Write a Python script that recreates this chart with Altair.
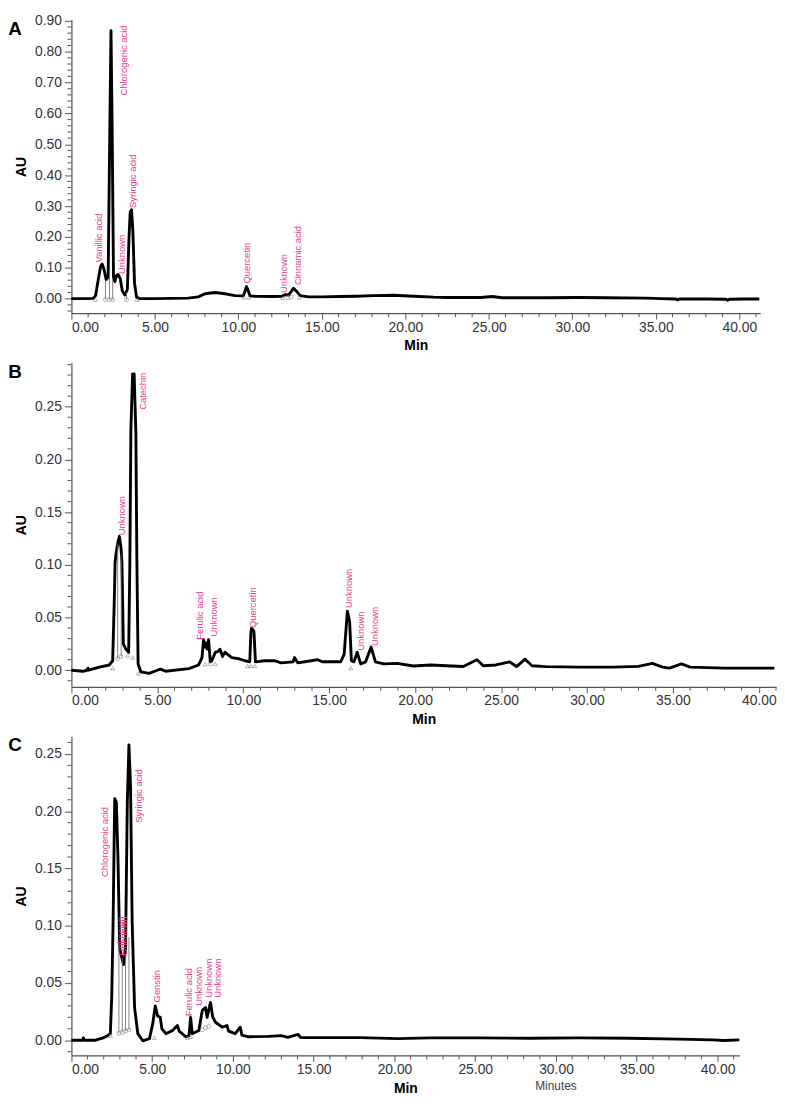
import altair as alt
import pandas as pd

# ---------------- Panel A ----------------
A_time = [0.0, 0.8, 1.3, 1.45, 1.6, 1.75, 1.84, 1.95, 2.08, 2.2, 2.3, 2.37, 2.44, 2.52, 2.6, 2.7, 2.8,
          2.92, 3.05, 3.2, 3.35, 3.45, 3.52, 3.6, 3.68, 3.78, 3.9, 4.1, 5.0, 6.0, 7.0, 7.6, 8.0, 8.6,
          9.2, 9.8, 10.3, 10.4, 10.48, 10.56, 10.7, 11.0, 12.0, 12.6, 12.8, 13.0, 13.15, 13.3, 13.45,
          13.7, 14.2, 15.0, 16.1, 17.0, 18.1, 19.3, 20.5, 21.7, 22.5, 24.5, 25.2, 25.8, 27.0, 28.5,
          30.4, 32.0, 34.4, 35.3, 36.2, 36.3, 36.4, 38.0, 39.2, 39.3, 39.4, 40.2, 41.2]
A_au = [0.0, 0.0, 0.001, 0.01, 0.06, 0.105, 0.112, 0.095, 0.062, 0.07, 0.55, 0.868, 0.55, 0.07, 0.055,
        0.075, 0.078, 0.065, 0.025, 0.012, 0.03, 0.2, 0.28, 0.288, 0.22, 0.05, 0.005, 0.0, 0.0, 0.001,
        0.002, 0.006, 0.016, 0.02, 0.016, 0.01, 0.009, 0.025, 0.039, 0.03, 0.009, 0.008, 0.007, 0.008,
        0.013, 0.012, 0.022, 0.034, 0.026, 0.01, 0.006, 0.006, 0.007, 0.008, 0.01, 0.011, 0.008, 0.005,
        0.004, 0.004, 0.007, 0.003, 0.003, 0.003, 0.004, 0.003, 0.002, 0.0, -0.001, -0.004, -0.001,
        -0.001, -0.002, -0.005, -0.002, -0.001, -0.001]
A_lab_text = ["Vanillic acid", "Chlorogenic acid", "Unknown", "Syringic acid", "Quercetin", "Unknown",
              "Cinnamic acid"]
A_lab_time = [1.68, 3.17, 3.05, 3.66, 10.54, 12.76, 13.6]
A_lab_au = [0.117, 0.658, 0.08, 0.294, 0.049, 0.018, 0.044]
A_tri_time = [1.44, 3.94, 10.33, 10.62, 12.66, 13.65]
A_tri_au = [-0.003, -0.003, 0.004, 0.004, 0.003, 0.004]
A_cir_time = [2.04, 2.28, 2.47, 3.3, 12.96, 13.16]
A_cir_au = [-0.003, -0.003, -0.003, -0.003, 0.004, 0.005]
A_drop_time = [2.04, 2.28, 2.47, 3.3]
A_drop_top = [0.06, 0.07, 0.065, 0.02]
A_drop_bot = [-0.003, -0.003, -0.003, -0.003]

# ---------------- Panel B ----------------
B_time = [0.0, 0.67, 0.9, 0.96, 1.0, 1.63, 2.21, 2.4, 2.5, 2.54, 2.6, 2.69, 2.79, 2.88, 2.94, 3.02,
          3.17, 3.33, 3.4, 3.46, 3.56, 3.65, 3.75, 3.81, 3.88, 4.04, 4.52, 5.0, 5.19, 5.48, 6.83, 7.4,
          7.6, 7.69, 7.76, 7.83, 7.9, 7.98, 8.08, 8.17, 8.37, 8.55, 8.65, 8.79, 8.94, 9.33, 9.71, 10.1,
          10.38, 10.44, 10.48, 10.57, 10.62, 10.71, 11.25, 11.83, 12.2, 12.9, 12.98, 13.17, 13.94,
          14.33, 14.6, 15.67, 15.87, 16.06, 16.19, 16.29, 16.44, 16.63, 16.83, 17.12, 17.44, 17.69,
          18.17, 18.95, 19.9, 20.9, 21.8, 22.8, 23.6, 23.96, 24.7, 25.5, 25.9, 26.4, 26.8, 27.6, 29.5,
          31.5, 33.0, 33.8, 34.4, 34.8, 35.5, 36.0, 38.0, 40.9]
B_au = [0.0, -0.001, 0.0, 0.002, 0.0, 0.003, 0.005, 0.009, 0.07, 0.102, 0.111, 0.12, 0.127, 0.117,
        0.102, 0.025, 0.02, 0.017, 0.102, 0.228, 0.281, 0.281, 0.225, 0.102, 0.006, -0.0015, -0.003,
        0.0, 0.001, -0.001, 0.0015, 0.005, 0.012, 0.029, 0.022, 0.026, 0.02, 0.029, 0.008, 0.009,
        0.017, 0.018, 0.02, 0.013, 0.017, 0.012, 0.011, 0.009, 0.008, 0.035, 0.04, 0.038, 0.037, 0.008,
        0.009, 0.009, 0.007, 0.008, 0.012, 0.007, 0.009, 0.01, 0.008, 0.008, 0.015, 0.056, 0.046,
        0.009, 0.008, 0.017, 0.006, 0.008, 0.022, 0.008, 0.006, 0.0065, 0.004, 0.005, 0.0043, 0.0035,
        0.01, 0.0043, 0.005, 0.008, 0.0035, 0.0105, 0.0043, 0.0034, 0.003, 0.003, 0.0037, 0.0065,
        0.003, 0.002, 0.006, 0.003, 0.002, 0.002]
B_lab_text = ["Unknown", "Catechin", "Ferulic acid", "Unknown", "Quercetin", "Unknown", "Unknown",
              "Unknown"]
B_lab_time = [2.92, 4.17, 7.5, 8.31, 10.58, 16.15, 16.83, 17.69]
B_lab_au = [0.128, 0.247, 0.029, 0.032, 0.04, 0.059, 0.0185, 0.023]
B_tri_time = [2.4, 3.27, 3.56, 3.9, 7.79, 8.37, 10.25, 10.44, 10.67, 16.25]
B_tri_au = [0.002, 0.014, 0.012, -0.003, 0.006, 0.006, 0.004, 0.004, 0.004, 0.002]
B_cir_time = [2.69, 2.88, 8.08]
B_cir_au = [0.011, 0.013, 0.006]
B_drop_time = [2.69, 2.9]
B_drop_top = [0.12, 0.11]
B_drop_bot = [0.011, 0.013]

# ---------------- Panel C ----------------
C_time = [0.0, 0.7, 0.74, 0.78, 1.5, 1.96, 2.17, 2.41, 2.5, 2.58, 2.68, 2.78, 2.88, 2.99, 3.09, 3.23,
          3.35, 3.46, 3.56, 3.66, 3.76, 3.91, 4.11, 4.42, 4.83, 5.03, 5.19, 5.34, 5.5, 5.6, 5.85, 6.26,
          6.56, 6.67, 7.08, 7.28, 7.38, 7.48, 7.89, 8.1, 8.3, 8.4, 8.61, 8.75, 8.92, 9.33, 9.63, 9.73,
          10.14, 10.45, 10.55, 10.96, 12.19, 13.0, 13.4, 14.03, 14.2, 15.9, 17.9, 20.2, 22.2, 25.3,
          28.4, 31.4, 34.5, 37.6, 39.7, 40.4, 41.35]
C_au = [0.0, 0.0, 0.002, 0.0, 0.0, 0.002, 0.0034, 0.0057, 0.04, 0.103, 0.211, 0.208, 0.16, 0.08, 0.074,
        0.066, 0.08, 0.208, 0.258, 0.222, 0.103, 0.0285, 0.0057, -0.0005, 0.0014, 0.014, 0.03, 0.021,
        0.02, 0.01, 0.0057, 0.0085, 0.0128, 0.008, 0.003, 0.004, 0.02, 0.0057, 0.0085, 0.026, 0.0285,
        0.02, 0.033, 0.02, 0.0157, 0.0114, 0.0128, 0.008, 0.0057, 0.0114, 0.0045, 0.003, 0.0034,
        0.004, 0.0025, 0.005, 0.0023, 0.0023, 0.0023, 0.0014, 0.002, 0.002, 0.0017, 0.002, 0.0017,
        0.0009, 0.0003, -0.0003, 0.0003]
C_lab_text = ["Chlorogenic acid", "Unknown", "Unknown", "Syringic acid", "Genstin", "Ferulic acid",
              "Unknown", "Unknown", "Unknown"]
C_lab_time = [2.07, 3.05, 3.25, 4.21, 5.3, 7.25, 7.92, 8.5, 9.1]
C_lab_au = [0.1425, 0.074, 0.074, 0.19, 0.033, 0.021, 0.03, 0.037, 0.037]
C_tri_time = [2.41, 5.13, 7.18, 7.38]
C_tri_au = [0.004, 0.002, 0.002, 0.003]
C_cir_time = [2.94, 3.15, 3.35, 3.56, 8.1, 8.3, 8.5]
C_cir_au = [0.006, 0.007, 0.008, 0.009, 0.009, 0.011, 0.012]
C_drop_time = [2.94, 3.15, 3.35, 3.56]
C_drop_top = [0.085, 0.072, 0.075, 0.09]
C_drop_bot = [0.006, 0.007, 0.008, 0.009]

X_MAJOR = [0, 5, 10, 15, 20, 25, 30, 35, 40]
X_MINOR = [i for i in range(0, 42) if i % 5 != 0]

PINK = "#e8378e"
LABEL_FONT = "'Liberation Sans Narrow', 'Arial Narrow', 'Liberation Sans', sans-serif"
AX_FONT = "Liberation Sans"


def panel(letter, t, v, lt, lv, ltext, tt, tv, ct, cv, dt, dtop, dbot,
          xmax, ydom, w, h, ymajor, yminor, extra=None):
    xs = alt.Scale(domain=[0, xmax], nice=False, zero=False)
    ys = alt.Scale(domain=ydom, nice=False, zero=False)
    nx = alt.Axis(labelOverlap=False, tickCount=100)
    ny = alt.Axis(labelOverlap=False, tickCount=100)

    # main axes: labelled major ticks (other layers share these axes)
    line = alt.Chart(pd.DataFrame({"t": t, "v": v})).mark_line(
        color="black", strokeWidth=2.9, strokeJoin="round"
    ).encode(
        x=alt.X("t:Q", scale=xs, axis=alt.Axis(
            values=X_MAJOR, tickCount=100, format=".2f", title="Min", orient="bottom", grid=False,
            tickSize=6, labelPadding=1, titlePadding=5, labelOverlap=False)),
        y=alt.Y("v:Q", scale=ys, axis=alt.Axis(
            values=ymajor, tickCount=100, format=".2f", title="AU", orient="left", grid=False,
            tickSize=7, labelPadding=3, titlePadding=6, labelOverlap=False)),
    )

    # minor ticks placed through the scales
    xminor = alt.Chart(pd.DataFrame({"t": X_MINOR})).mark_rule(
        color="#555555", strokeWidth=1
    ).encode(x=alt.X("t:Q", scale=xs, axis=nx), y=alt.value(h), y2=alt.value(h + 4))
    yminor_ch = alt.Chart(pd.DataFrame({"v": yminor})).mark_rule(
        color="#555555", strokeWidth=1
    ).encode(y=alt.Y("v:Q", scale=ys, axis=ny), x=alt.value(0), x2=alt.value(-4))

    mk = pd.DataFrame({
        "t": list(tt) + list(ct),
        "v": list(tv) + list(cv),
        "k": ["tri"] * len(tt) + ["cir"] * len(ct),
    })
    marks = alt.Chart(mk).mark_point(
        filled=False, size=16, strokeWidth=0.8, color="#777777"
    ).encode(
        x=alt.X("t:Q", scale=xs, axis=nx),
        y=alt.Y("v:Q", scale=ys, axis=ny),
        shape=alt.Shape("k:N", scale=alt.Scale(domain=["tri", "cir"],
                                               range=["triangle-up", "circle"]), legend=None),
    )

    drops = alt.Chart(pd.DataFrame({"t": dt, "a": dtop, "b": dbot})).mark_rule(
        color="#666666", strokeWidth=0.8
    ).encode(x=alt.X("t:Q", scale=xs, axis=nx), y=alt.Y("a:Q", scale=ys, axis=ny), y2="b:Q")

    labels = alt.Chart(pd.DataFrame({"t": lt, "v": lv, "s": ltext})).mark_text(
        angle=270, align="left", baseline="middle", color=PINK, font=LABEL_FONT, fontSize=9.5
    ).encode(x=alt.X("t:Q", scale=xs, axis=nx), y=alt.Y("v:Q", scale=ys, axis=ny), text="s:N")

    let = alt.Chart(pd.DataFrame({"s": [letter]})).mark_text(
        font="Liberation Sans", fontWeight="bold", fontSize=19, align="center", baseline="top",
        color="black"
    ).encode(x=alt.value(-57), y=alt.value(0), text="s:N")

    layers = [line, xminor, yminor_ch, marks, drops, labels, let]
    if extra is not None:
        layers.append(extra)
    return alt.layer(*layers).properties(width=w, height=h)


C_H = 322
minutes = alt.Chart(pd.DataFrame({"s": ["Minutes"]})).mark_text(
    font="Liberation Sans", fontSize=12, color="#444444", align="center", baseline="middle"
).encode(x=alt.value(489), y=alt.value(C_H + 31), text="s:N")

pA = panel("A", A_time, A_au, A_lab_time, A_lab_au, A_lab_text, A_tri_time, A_tri_au,
           A_cir_time, A_cir_au, A_drop_time, A_drop_top, A_drop_bot,
           41.25, [-0.047, 0.903], 695, 296,
           [round(i * 0.1, 2) for i in range(0, 10)],
           [round(i * 0.02, 2) for i in range(-2, 46) if i % 5 != 0])
pB = panel("B", B_time, B_au, B_lab_time, B_lab_au, B_lab_text, B_tri_time, B_tri_au,
           B_cir_time, B_cir_au, B_drop_time, B_drop_top, B_drop_bot,
           41.0, [-0.0157, 0.2917], 711, 327,
           [round(i * 0.05, 2) for i in range(0, 6)],
           [round(i * 0.01, 2) for i in range(-1, 30) if i % 5 != 0])
pC = panel("C", C_time, C_au, C_lab_time, C_lab_au, C_lab_text, C_tri_time, C_tri_au,
           C_cir_time, C_cir_au, C_drop_time, C_drop_top, C_drop_bot,
           41.35, [-0.0133, 0.2654], 674, C_H,
           [round(i * 0.05, 2) for i in range(0, 6)],
           [round(i * 0.01, 2) for i in range(-1, 27) if i % 5 != 0], extra=minutes)

chart = alt.vconcat(pA, pB, pC, spacing=10).properties(padding=0).configure_view(
    stroke=None
).configure_axis(
    domainColor="#555555", tickColor="#555555", labelColor="#333333",
    labelFont=AX_FONT, labelFontSize=14, titleFont=AX_FONT, titleFontSize=14,
    titleFontWeight="bold", titleColor="black", domainWidth=1.2, tickWidth=1,
    labelOverlap=False
)

chart.save("out.html", embed_options={"renderer": "svg", "actions": False})
